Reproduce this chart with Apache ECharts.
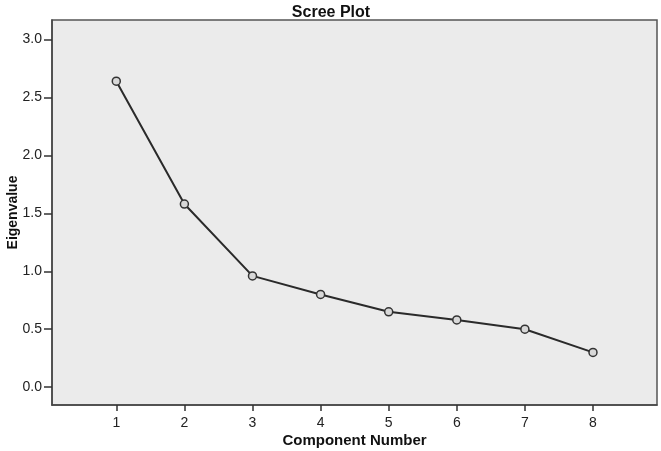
<!DOCTYPE html>
<html>
<head>
<meta charset="utf-8">
<script src="https://cdn.jsdelivr.net/npm/echarts@6/dist/echarts.min.js"></script>
<style>html,body{margin:0;padding:0;background:#fff}#c{width:661px;height:451px}</style>
</head>
<body>
<div id="c"></div>
<script>
const components = [1, 2, 3, 4, 5, 6, 7, 8];
const eigenvalues = [2.64, 1.58, 0.96, 0.80, 0.65, 0.58, 0.50, 0.30];
const xTicks = [1, 2, 3, 4, 5, 6, 7, 8];
const yTicks = [0, 0.5, 1.0, 1.5, 2.0, 2.5, 3.0];

const chart = echarts.init(document.getElementById('c'));
const font = 'Liberation Sans, Arial, sans-serif';
chart.setOption({
  animation: false,
  title: {
    text: 'Scree Plot', left: 326, top: 0, textAlign: 'center',
    textStyle: { fontFamily: font, fontSize: 16, fontWeight: 'bold', color: '#111' }
  },
  grid: {
    left: 52, right: 4, top: 20, bottom: 46, show: true,
    outerBoundsMode: 'none', containLabel: false,
    backgroundColor: '#ebebeb', borderColor: '#555', borderWidth: 1.5
  },
  xAxis: {
    type: 'value', min: 0.056, max: 8.94,
    name: 'Component Number', nameLocation: 'middle', nameGap: 28, nameMoveOverlap: false,
    nameTextStyle: { fontFamily: font, fontSize: 15, fontWeight: 'bold', color: '#111' },
    axisLine: { show: true, onZero: false, lineStyle: { color: '#444', width: 1.5 } },
    axisTick: { show: true, inside: false, customValues: xTicks, length: 6, lineStyle: { color: '#333', width: 1.5 } },
    axisLabel: { customValues: xTicks, fontFamily: font, fontSize: 14, color: '#222', margin: 11,
      formatter: v => String(v) },
    splitLine: { show: false }
  },
  yAxis: {
    type: 'value', min: -0.154, max: 3.168,
    name: 'Eigenvalue', nameLocation: 'middle', nameGap: 32, nameRotate: 90, nameMoveOverlap: false,
    nameTextStyle: { fontFamily: font, fontSize: 14, fontWeight: 'bold', color: '#111' },
    axisLine: { show: true, onZero: false, lineStyle: { color: '#444', width: 1.5 } },
    axisTick: { show: true, inside: false, customValues: yTicks, length: 8, lineStyle: { color: '#333', width: 1.5 } },
    axisLabel: { customValues: yTicks, fontFamily: font, fontSize: 14, color: '#222', margin: 10,
      formatter: v => v.toFixed(1) },
    splitLine: { show: false }
  },
  series: [{
    type: 'line',
    data: components.map((c, i) => [c, eigenvalues[i]]),
    lineStyle: { color: '#2a2a2a', width: 2 },
    symbol: 'circle', symbolSize: 8,
    itemStyle: { color: '#d8d8d8', borderColor: '#333', borderWidth: 1.5 },
    z: 3
  }]
});
</script>
</body>
</html>
